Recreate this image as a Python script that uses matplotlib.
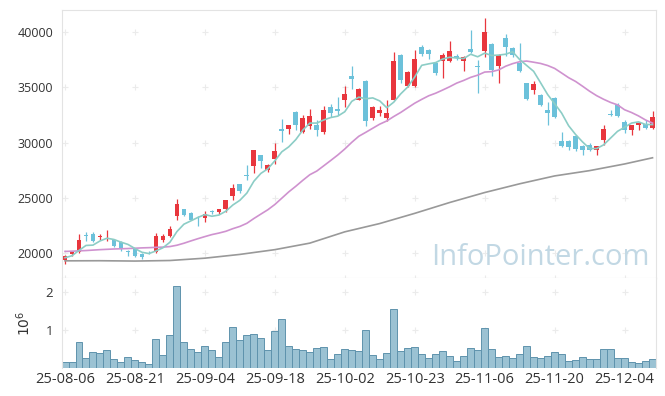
import numpy as np
import matplotlib.pyplot as plt

plt.rcParams['font.family'] = ['Open Sans', 'DejaVu Sans']

# x tick labels, one every 10 trading days
tick_labels = ["25-08-06", "25-08-21", "25-09-04", "25-09-18", "25-10-02",
               "25-10-23", "25-11-06", "25-11-20", "25-12-04"]

# daily candles
opens = [19370, 19970, 20120, 21690, 21780, 21470, 21300, 21170, 20990, 20180,
         20360, 19970, 20150, 20120, 21240, 21530, 23370, 23970, 23640, 23130,
         23190, 23850, 23700, 24000, 25180, 26230, 27080, 27860, 28850, 27500,
         28550, 31260, 31200, 32820, 30960, 31470, 31560, 30960, 33270, 33060,
         33880, 36000, 33880, 35620, 32220, 32670, 32190, 33880, 37970, 35110,
         35110, 38690, 38390, 37220, 37370, 37370, 37880, 37370, 38510, 36940,
         38270, 38960, 36910, 39420, 38540, 37220, 35380, 34780, 34270, 33000,
         34060, 30200, 30200, 30570, 29720, 29810, 29300, 30260, 32580, 33450,
         31860, 31110, 31620, 31710, 31320]
highs = [19820, 20150, 21780, 21930, 21930, 21780, 22140, 21230, 21080, 20330,
         20420, 20030, 20240, 21870, 21780, 22440, 24930, 24030, 23700, 23340,
         23790, 23960, 23990, 24850, 26290, 26290, 28010, 29330, 28910, 28070,
         30020, 32160, 31600, 32850, 32460, 33070, 32070, 33360, 33520, 34120,
         35170, 36890, 34930, 35680, 33300, 33360, 33880, 38240, 38030, 36460,
         38390, 38850, 38480, 37280, 38150, 39230, 38030, 37880, 40200, 37430,
         41290, 39050, 38030, 39840, 38630, 39050, 35440, 35560, 34420, 33660,
         34120, 30960, 30260, 30720, 29750, 30020, 29700, 31620, 32970, 33570,
         32010, 31620, 31860, 32070, 32910]
lows = [19070, 19750, 20030, 21110, 21020, 21170, 21110, 20570, 20210, 19760,
        19670, 19520, 19970, 20030, 21020, 21470, 23040, 23340, 22980, 22470,
        22830, 23550, 23550, 23700, 24790, 25450, 26590, 27250, 27740, 27340,
        28100, 30050, 30750, 31170, 30870, 31260, 30570, 30750, 32310, 32460,
        33270, 34870, 33820, 31530, 32010, 32370, 31980, 33820, 35410, 35020,
        35020, 37880, 37580, 36080, 35860, 37280, 37490, 36460, 38090, 34510,
        37730, 36010, 35380, 37880, 37790, 36400, 33880, 34360, 33360, 31560,
        32250, 29600, 29300, 29240, 28850, 29240, 28850, 29750, 32370, 32310,
        30870, 30660, 31170, 31260, 31260]
closes = [19730, 20120, 21230, 21560, 21110, 21600, 21360, 20660, 20360, 20090,
          19730, 19670, 20090, 21530, 21530, 22230, 24480, 23430, 23040, 23070,
          23520, 23730, 23970, 24790, 25870, 25630, 27000, 29300, 28340, 27950,
          29240, 31080, 31560, 31590, 32250, 32370, 31110, 32980, 32670, 32880,
          34360, 35800, 34870, 31950, 33270, 33000, 32730, 37370, 35710, 36370,
          37520, 38000, 38030, 36290, 37970, 38330, 37640, 37790, 38240, 36830,
          39960, 36590, 37970, 38630, 37940, 36460, 33910, 35320, 33430, 32670,
          32310, 29690, 29600, 29450, 29300, 29350, 29660, 31260, 32520, 32370,
          31170, 31560, 31800, 31350, 32310]

# volume in millions
volumes = [0.15, 0.15, 0.69, 0.27, 0.43, 0.40, 0.48, 0.24, 0.16, 0.29,
           0.22, 0.16, 0.10, 0.76, 0.35, 0.87, 2.15, 0.69, 0.50, 0.43,
           0.57, 0.48, 0.30, 0.69, 1.07, 0.74, 0.87, 0.90, 0.78, 0.48,
           0.97, 1.28, 0.57, 0.50, 0.48, 0.43, 0.53, 0.55, 0.24, 0.37,
           0.50, 0.47, 0.44, 0.99, 0.34, 0.23, 0.39, 1.54, 0.44, 0.52,
           0.55, 0.37, 0.26, 0.37, 0.44, 0.31, 0.18, 0.31, 0.52, 0.47,
           1.04, 0.50, 0.29, 0.31, 0.26, 0.37, 0.57, 0.29, 0.26, 0.31,
           0.42, 0.37, 0.18, 0.21, 0.29, 0.23, 0.23, 0.50, 0.50, 0.26,
           0.26, 0.16, 0.13, 0.18, 0.23]

# moving averages (5 day, 20 day) as shown on the chart
ma5 = [19610, 19790, 20270, 20720, 20750, 21124, 21372, 21258, 21018, 20814,
       20440, 20102, 19988, 20222, 20510, 21010, 21972, 22640, 22942, 23250,
       23508, 23358, 23466, 23816, 24376, 24798, 25452, 26518, 27228, 27644,
       28366, 29182, 29634, 30284, 31144, 31770, 31776, 32060, 32276, 32402,
       32800, 33738, 34116, 33972, 34050, 33778, 33164, 33664, 34416, 35036,
       35940, 36994, 37126, 37242, 37562, 37724, 37652, 37604, 37994, 37766,
       38092, 37882, 37918, 37996, 38218, 37518, 36982, 36452, 35412, 34358,
       33528, 32684, 31540, 30744, 30070, 29478, 29472, 29804, 30418, 31032,
       31396, 31776, 31884, 31650, 31638]
ma20 = [20180, 20200, 20230, 20260, 20300, 20340, 20370, 20400, 20420, 20440,
        20470, 20500, 20520, 20550, 20570, 20620, 20740, 20920, 21130, 21331,
        21520, 21701, 21838, 22000, 22238, 22439, 22721, 23153, 23552, 23945,
        24420, 24991, 25564, 26068, 26604, 27110, 27442, 27920, 28401, 28892,
        29434, 30037, 30582, 30940, 31310, 31678, 31965, 32368, 32737, 33158,
        33572, 33918, 34242, 34476, 34762, 35060, 35387, 35628, 35906, 36104,
        36384, 36423, 36578, 36912, 37146, 37318, 37378, 37275, 37161, 36976,
        36716, 36300, 35878, 35536, 35103, 34654, 34255, 33928, 33642, 33420,
        32980, 32728, 32420, 32056, 31774]
# long moving average, read every 5 days
ma_long_idx = [0, 5, 10, 15, 20, 25, 30, 35, 40, 45, 50, 55, 60, 65, 70, 75, 80, 84]
ma_long = [19330, 19340, 19310, 19360, 19570, 19910, 20340, 20930, 21950, 22700,
           23620, 24600, 25500, 26290, 27000, 27480, 28080, 28640]

red = "#e8363d"
blue = "#6cc1da"
spine_col = "#e3e3e3"
cross_col = "#ebebeb"

fig = plt.figure(figsize=(6.65, 3.96), dpi=100)
ax = fig.add_axes([0.0925, 0.298, 0.894, 0.677])
axv = fig.add_axes([0.0925, 0.0707, 0.894, 0.227], sharex=ax)

x = np.arange(len(closes))
o = np.array(opens)
c = np.array(closes)
up = c >= o
cols = np.where(up, red, blue)

ax.vlines(x, lows, highs, colors=cols, lw=0.9, zorder=2)
ax.bar(x, np.maximum(np.abs(c - o), 50), bottom=np.minimum(o, c), width=0.68,
       color=cols, zorder=2)

ax.plot(ma_long_idx, ma_long, color="#999999", lw=1.2, zorder=3)
ax.plot(x, ma20, color="#cf92cf", lw=1.2, zorder=3)
ax.plot(x, ma5, color="#8ccdc6", lw=1.2, zorder=3)

xticks = np.arange(0, len(closes), 10)
yticks = np.arange(20000, 40001, 5000)
xx, yy = np.meshgrid(xticks, yticks)
ax.plot(xx.ravel(), yy.ravel(), "+", color=cross_col, ms=4, mew=0.8, zorder=0)
ax.plot(xticks, np.full(len(xticks), 17780), "+", color=cross_col, ms=4, mew=0.8,
        zorder=0, clip_on=False)

ax.text(0.99, 0.048, "InfoPointer.com", transform=ax.transAxes, ha="right",
        va="baseline", fontsize=21, color="#c2d8e4", zorder=1)

ax.set_xlim(-0.5, len(closes) - 0.5)
ax.set_ylim(17780, 42000)
ax.set_yticks(yticks)
ax.set_yticklabels([str(v) for v in yticks])
ax.tick_params(axis="y", length=0, pad=6, labelsize=9, labelcolor="#333333")
ax.tick_params(axis="x", length=0, labelbottom=False)
for s in ax.spines.values():
    s.set_color(spine_col)

# volume panel
axv.bar(x, volumes, width=1.0, color="#9bc2d3", edgecolor="#5f93ad", lw=0.7)
vt = [1, 2]
vx, vy = np.meshgrid(xticks, vt)
axv.plot(vx.ravel(), vy.ravel(), "+", color=cross_col, ms=4, mew=0.8, zorder=0)
axv.set_ylim(0, 2.36)
axv.set_yticks(vt)
axv.set_xticks(xticks)
axv.set_xticklabels(tick_labels)
axv.set_ylabel("$10^6$", fontsize=10, color="#333333", labelpad=8)
axv.tick_params(axis="both", length=0, labelcolor="#333333")
axv.tick_params(axis="x", pad=3, labelsize=10.5)
axv.tick_params(axis="y", pad=6, labelsize=9.5)
for s in axv.spines.values():
    s.set_color(spine_col)
axv.spines["top"].set_visible(False)
axv.spines["bottom"].set_visible(False)

fig.savefig("out.png", dpi=100)
